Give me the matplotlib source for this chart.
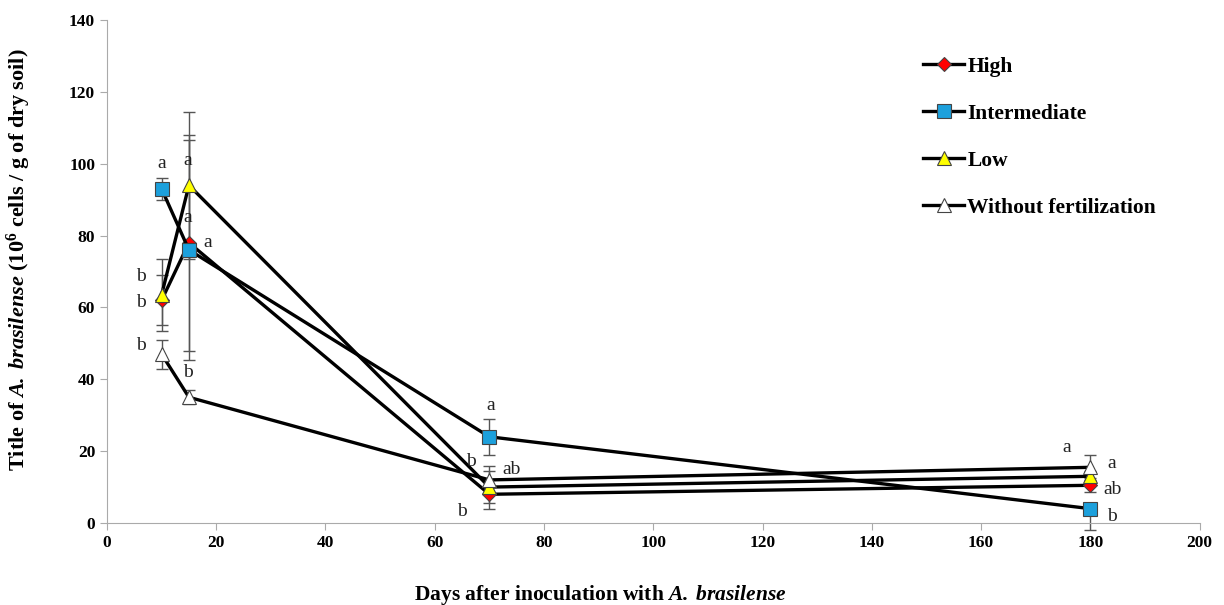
import numpy as np
import matplotlib.pyplot as plt

plt.rcParams['font.family'] = 'Liberation Serif'
plt.rcParams['mathtext.fontset'] = 'custom'
plt.rcParams['mathtext.rm'] = 'Liberation Serif'
plt.rcParams['mathtext.it'] = 'Liberation Serif:italic'
plt.rcParams['mathtext.bf'] = 'Liberation Serif:bold'
plt.rcParams['mathtext.bfit'] = 'Liberation Serif:bold:italic'

# sampling days
days = [10, 15, 70, 180]

# cell counts per treatment (10^6 cells / g dry soil)
high = [62, 78, 8, 10.5]
intermediate = [93, 76, 24, 4]
low = [63.5, 94, 10, 13]
without = [47, 35, 12, 15.5]

# standard errors (lower, upper)
high_err = [[7, 30, 4, 2], [7, 30, 4, 2]]
intermediate_err = [[3, 30.5, 5, 6], [3, 30.5, 5, 0]]
low_err = [[10, 20.5, 4.5, 1.5], [10, 20.5, 4.5, 1.5]]
without_err = [[4, 2, 4, 3.5], [4, 2, 4, 3.5]]

# significance letters: (x, y, text)
letters = [
    (10, 100, 'a'), (6.3, 68.5, 'b'), (6.3, 61.3, 'b'), (6.3, 49.5, 'b'),
    (14.8, 101, 'a'), (14.8, 85, 'a'), (18.5, 78, 'a'), (14.8, 42, 'b'),
    (70.3, 32.8, 'a'), (66.6, 17, 'b'), (74, 15, 'ab'), (65, 3.3, 'b'),
    (175.7, 21, 'a'), (184, 16.7, 'a'), (184, 9.2, 'ab'), (184, 1.7, 'b'),
]

fig = plt.figure(figsize=(12.24, 6.05), dpi=100)
ax = fig.add_axes([0.0874, 0.1355, 0.8926, 0.8315])

series = [
    ('High', high, high_err, 'D', 'red', 7.5),
    ('Intermediate', intermediate, intermediate_err, 's', '#1ca0dc', 10),
    ('Low', low, low_err, '^', '#ffff00', 10.5),
    ('Without fertilization', without, without_err, '^', 'white', 10.5),
]

for name, vals, err, mk, col, ms in series:
    ax.errorbar(days, vals, yerr=err, fmt='none', ecolor='#555555',
                elinewidth=1, capsize=4, capthick=1, zorder=2, clip_on=False)
for name, vals, err, mk, col, ms in series:
    ax.plot(days, vals, color='black', lw=2.4, marker=mk, markersize=ms,
            markerfacecolor=col, markeredgecolor='#444444', markeredgewidth=0.8,
            label=name, zorder=3, clip_on=False)

for x, y, t in letters:
    ax.text(x, y, t, fontsize=14, ha='center', va='center', color='#222222')

ax.set_xlim(0, 200)
ax.set_ylim(0, 140)
ax.set_xticks(np.arange(0, 201, 20))
ax.set_yticks(np.arange(0, 141, 20))
for s in ['top', 'right']:
    ax.spines[s].set_visible(False)
for s in ['left', 'bottom']:
    ax.spines[s].set_color('#aaaaaa')
ax.tick_params(colors='#aaaaaa', length=5, labelcolor='black', labelsize=12.5)
for lbl in ax.get_xticklabels() + ax.get_yticklabels():
    lbl.set_fontweight('bold')

ax.set_xlabel(r'Days after inoculation with $\mathbfit{A.\;brasilense}$',
              fontsize=15.5, fontweight='bold')
ax.xaxis.set_label_coords((601 - 107) / 1093, -0.12)
ax.set_ylabel(r'Title of $\mathbfit{A.\;brasilense}$ (10$^{\mathbf{6}}$ cells / g of dry soil)',
              fontsize=16, fontweight='bold')
ax.yaxis.set_label_coords(-0.068, 0.523)

leg = ax.legend(loc='upper left', bbox_to_anchor=(0.7295, 0.965), frameon=False,
                prop={'weight': 'bold', 'size': 15.5}, labelspacing=1.25,
                handlelength=1.9, handletextpad=0.15)

fig.savefig('out.png', dpi=100)
